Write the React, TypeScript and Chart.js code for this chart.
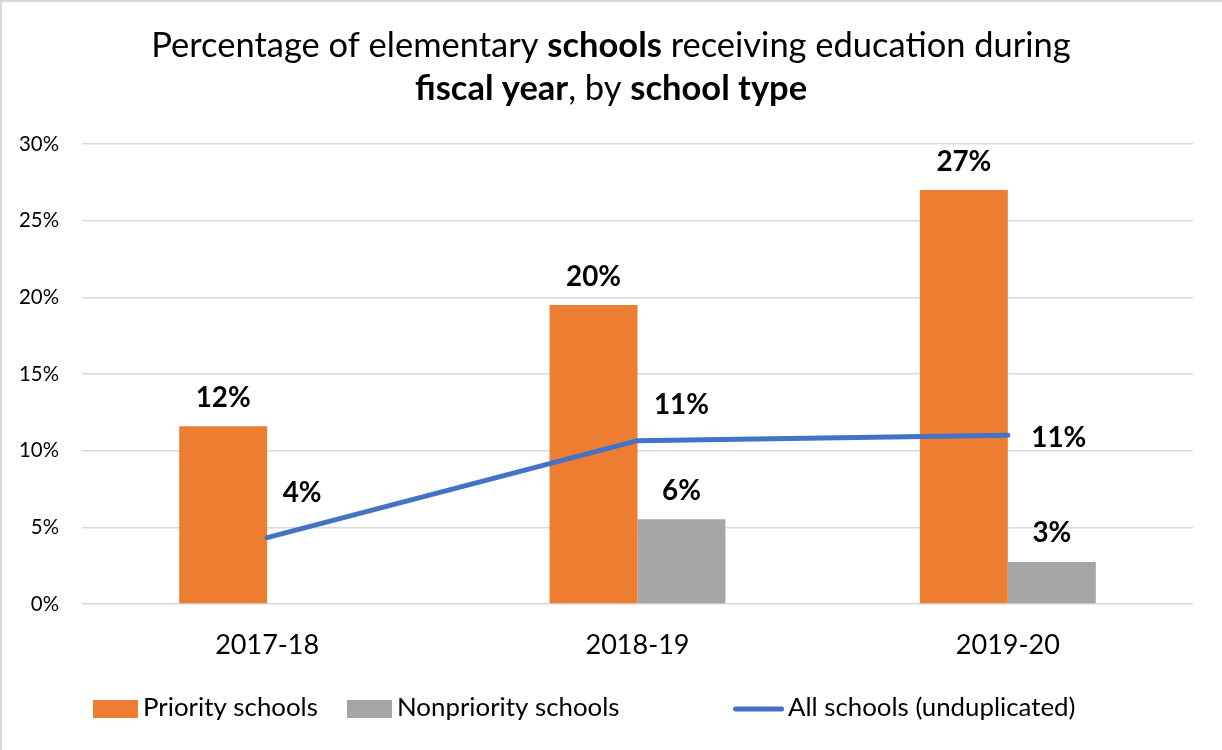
import React, { useEffect, useRef } from "react";
import { Chart, registerables } from "chart.js";

Chart.register(...registerables);

// ---------- data ----------
const categories = ["2017-18", "2018-19", "2019-20"];
const priorityValues: (number | null)[] = [11.6, 19.5, 27.0];
const nonpriorityValues: (number | null)[] = [null, 5.52, 2.74];
const allSchoolsValues: (number | null)[] = [4.33, 10.65, 11.0];
const seriesNames = ["Priority schools", "Nonpriority schools", "All schools (unduplicated)"];
const yMin = 0;
const yMax = 30;
const yStep = 5;

type Seg = { t: string; b: boolean };
const titleLine1: Seg[] = [
  { t: "Percentage of elementary ", b: false },
  { t: "schools", b: true },
  { t: " receiving education during", b: false },
];
const titleLine2: Seg[] = [
  { t: "fiscal year", b: true },
  { t: ", by ", b: false },
  { t: "school type", b: true },
];

// ---------- style ----------
const FONT = "Lato, 'Open Sans', sans-serif";
const COLORS = {
  priority: "#ED7D31",
  nonpriority: "#A5A5A5",
  all: "#4472C4",
  grid: "#D9D9D9",
  text: "#000000",
  frame: "#D9D9D9",
};
// label offsets (px) for the line's data labels, relative to each point
const lineLabelOffsets: [number, number][] = [
  [35, -46],
  [44, -37],
  [51, 1],
];
// legend item left edges (px)
const legendItemX = [93, 347, 733];

function fitSize(segs: Seg[], target: number): number {
  const c = document.createElement("canvas").getContext("2d")!;
  let w = 0;
  for (const s of segs) {
    c.font = `${s.b ? "bold " : ""}100px ${FONT}`;
    w += c.measureText(s.t).width;
  }
  return (100 * target) / w;
}

function capHeight(ctx: CanvasRenderingContext2D, ch = "H") {
  return ctx.measureText(ch).actualBoundingBoxAscent;
}

export default function App() {
  const ref = useRef<HTMLCanvasElement>(null);

  useEffect(() => {
    const canvas = ref.current!;
    const titleSize = fitSize(titleLine1, 920);
    const yTickSize = fitSize([{ t: "30%", b: false }], 40);
    const xTickSize = fitSize([{ t: "2017-18", b: false }], 104);
    const legendSize = fitSize([{ t: "Priority schools", b: false }], 175);
    const labelSize = fitSize([{ t: "12%", b: true }], 55);

    const bgPlugin = {
      id: "bg",
      beforeDraw(chart: any) {
        const { ctx, width, height } = chart;
        ctx.save();
        ctx.fillStyle = "#fff";
        ctx.fillRect(0, 0, width, height);
        ctx.fillStyle = COLORS.frame;
        ctx.fillRect(0, 0, 2, height);
        ctx.fillRect(0, 0, width, 2);
        ctx.restore();
      },
    };

    const drawSegLine = (ctx: CanvasRenderingContext2D, segs: Seg[], cx: number, capCenter: number) => {
      let total = 0;
      for (const s of segs) {
        ctx.font = `${s.b ? "bold " : ""}${titleSize}px ${FONT}`;
        total += ctx.measureText(s.t).width;
      }
      ctx.font = `${titleSize}px ${FONT}`;
      const baseline = capCenter + capHeight(ctx) / 2;
      let x = cx - total / 2;
      for (const s of segs) {
        ctx.font = `${s.b ? "bold " : ""}${titleSize}px ${FONT}`;
        ctx.fillText(s.t, x, baseline);
        x += ctx.measureText(s.t).width;
      }
    };

    const titlePlugin = {
      id: "mixedTitle",
      afterDraw(chart: any) {
        const ctx: CanvasRenderingContext2D = chart.ctx;
        ctx.save();
        ctx.fillStyle = COLORS.text;
        ctx.textAlign = "left";
        ctx.textBaseline = "alphabetic";
        drawSegLine(ctx, titleLine1, chart.width / 2, 44.5);
        drawSegLine(ctx, titleLine2, chart.width / 2, 87);
        ctx.restore();
      },
    };

    const labelPlugin = {
      id: "dataLabels",
      afterDatasetsDraw(chart: any) {
        const ctx: CanvasRenderingContext2D = chart.ctx;
        ctx.save();
        ctx.fillStyle = COLORS.text;
        ctx.font = `bold ${labelSize}px ${FONT}`;
        ctx.textAlign = "center";
        ctx.textBaseline = "alphabetic";
        const ch = capHeight(ctx, "0");
        chart.data.datasets.forEach((ds: any, i: number) => {
          const meta = chart.getDatasetMeta(i);
          meta.data.forEach((el: any, j: number) => {
            const v = ds.data[j];
            if (v == null) return;
            let x = el.x;
            let y = el.y;
            if (ds.type === "line") {
              x += lineLabelOffsets[j][0];
              y += lineLabelOffsets[j][1];
            } else {
              y -= 30;
            }
            ctx.fillText(`${Math.round(v)}%`, x, y + ch / 2);
          });
        });
        ctx.restore();
      },
    };

    const legendPlugin = {
      id: "customLegend",
      afterDraw(chart: any) {
        const ctx: CanvasRenderingContext2D = chart.ctx;
        ctx.save();
        ctx.font = `${legendSize}px ${FONT}`;
        ctx.textAlign = "left";
        ctx.textBaseline = "alphabetic";
        const cy = 709;
        const ch = capHeight(ctx, "P");
        const textBase = cy - 1.6 + ch / 2;
        const colors = [COLORS.priority, COLORS.nonpriority, COLORS.all];
        seriesNames.forEach((name, i) => {
          let x = legendItemX[i];
          if (i < 2) {
            ctx.fillStyle = colors[i];
            ctx.fillRect(x, cy - 9, 45, 18);
            x += 50;
          } else {
            ctx.strokeStyle = colors[i];
            ctx.lineWidth = 5;
            ctx.lineCap = "round";
            ctx.beginPath();
            ctx.moveTo(x + 2.5, cy);
            ctx.lineTo(x + 48.5, cy);
            ctx.stroke();
            x += 55;
          }
          ctx.fillStyle = COLORS.text;
          ctx.fillText(name, x, textBase);
        });
        ctx.restore();
      },
    };

    const chart = new Chart(canvas, {
      type: "bar",
      data: {
        labels: categories,
        datasets: [
          {
            type: "line",
            label: seriesNames[2],
            data: allSchoolsValues,
            borderColor: COLORS.all,
            backgroundColor: COLORS.all,
            borderWidth: 5,
            pointRadius: 0,
            pointHoverRadius: 0,
            borderCapStyle: "round",
            borderJoinStyle: "round",
            tension: 0,
            order: 0,
          } as any,
          {
            type: "bar",
            label: seriesNames[0],
            data: priorityValues,
            backgroundColor: COLORS.priority,
            borderWidth: 0,
            order: 1,
          },
          {
            type: "bar",
            label: seriesNames[1],
            data: nonpriorityValues,
            backgroundColor: COLORS.nonpriority,
            borderWidth: 0,
            order: 1,
          },
        ],
      },
      options: {
        responsive: false,
        animation: false,
        devicePixelRatio: 1,
        layout: { padding: { top: 144, right: 29, bottom: 0, left: 0 } },
        datasets: {
          bar: { barPercentage: 1, categoryPercentage: 0.475 },
        },
        plugins: {
          legend: { display: false },
          tooltip: { enabled: false },
          title: { display: false },
        },
        scales: {
          x: {
            grid: { display: false, drawTicks: false },
            border: { display: false },
            ticks: {
              color: COLORS.text,
              font: { family: FONT, size: xTickSize, lineHeight: 1.2 },
              padding: 41 - 0.6 * xTickSize,
              maxRotation: 0,
            },
            afterFit(scale: any) {
              scale.height = 146;
            },
          },
          y: {
            min: yMin,
            max: yMax,
            grid: { color: COLORS.grid, lineWidth: 1.5, drawTicks: false },
            border: { display: false },
            ticks: {
              stepSize: yStep,
              color: COLORS.text,
              font: { family: FONT, size: yTickSize },
              padding: 23,
              callback: (v: any) => `${v}%`,
            },
            afterFit(scale: any) {
              scale.width = 82;
            },
          },
        },
      },
      plugins: [bgPlugin, labelPlugin, titlePlugin, legendPlugin],
    });

    return () => chart.destroy();
  }, []);

  return (
    <div style={{ position: "absolute", left: 0, top: 0, width: 1222, height: 750, background: "#fff" }}>
      <canvas ref={ref} width={1222} height={750} style={{ display: "block" }} />
    </div>
  );
}
